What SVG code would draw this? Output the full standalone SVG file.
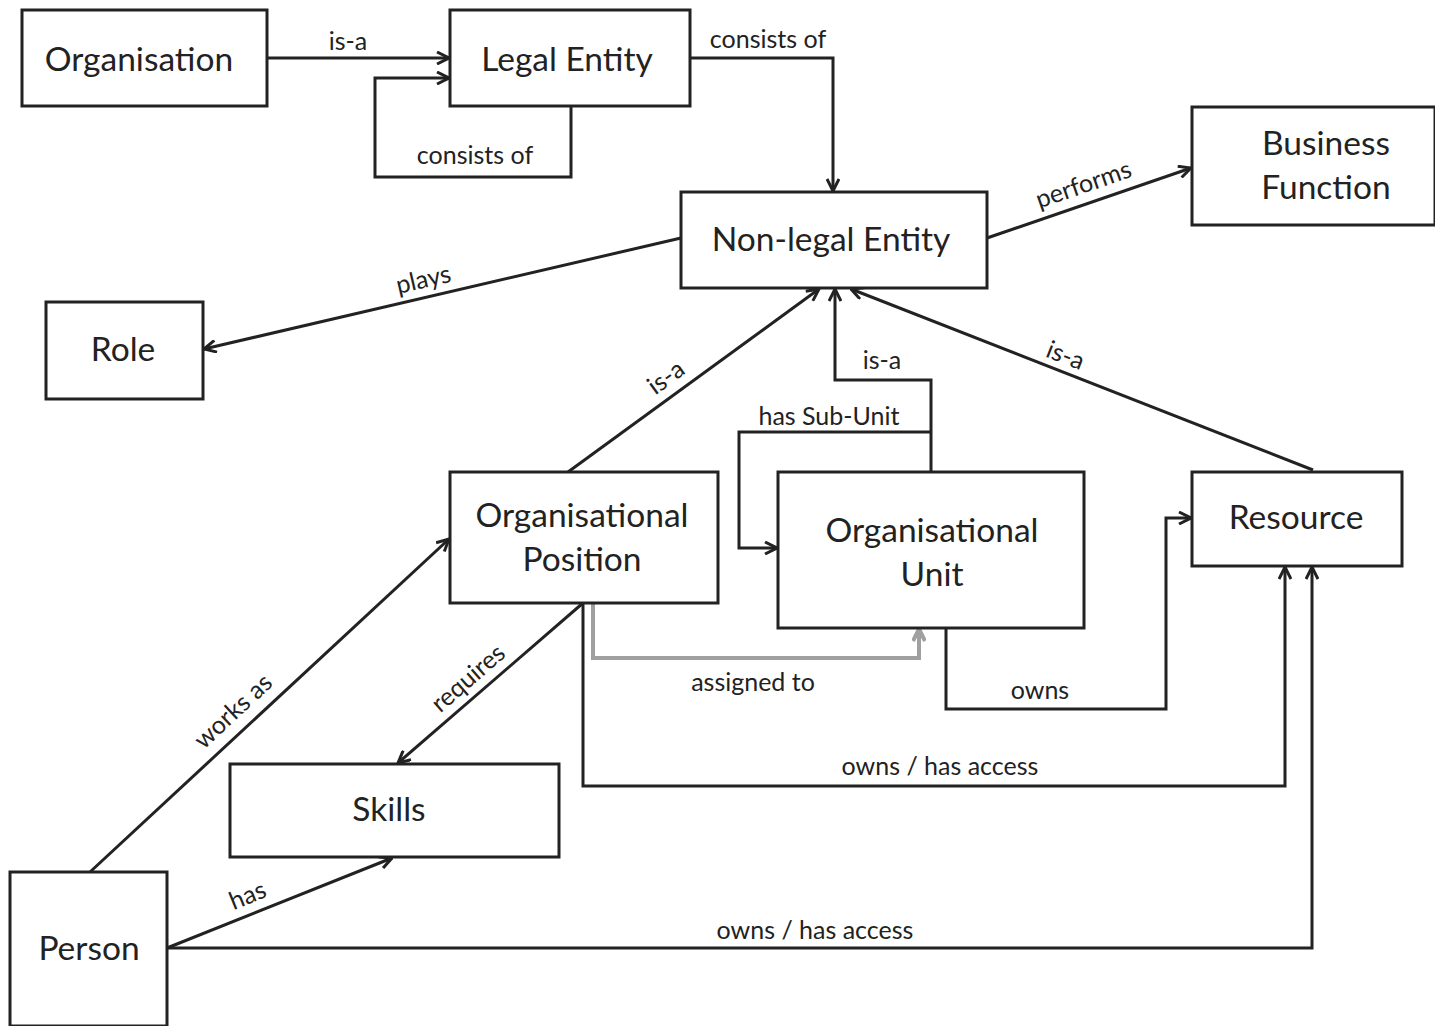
<svg xmlns="http://www.w3.org/2000/svg" width="1435" height="1026" viewBox="0 0 1435 1026">
<style>
.box{fill:#fff;stroke:#222;stroke-width:3}
.nt{font-family:Lato,"Liberation Sans",sans-serif;font-size:33.5px;fill:#222;text-anchor:middle}
.el{font-family:Lato,"Liberation Sans",sans-serif;font-size:25px;fill:#222;text-anchor:middle}
.er{font-family:Lato,"Liberation Sans",sans-serif;font-size:25px;fill:#222;text-anchor:middle;dominant-baseline:central}
.c{fill:none;stroke:#222;stroke-width:3;marker-end:url(#a)}
.g{fill:none;stroke:#a0a0a0;stroke-width:4;marker-end:url(#ag)}
</style>
<defs>
<marker id="a" viewBox="0 0 14 14" markerWidth="14" markerHeight="14" refX="13" refY="7" orient="auto" markerUnits="userSpaceOnUse">
<path d="M1,1 L13,7 L1,13" fill="none" stroke="#222" stroke-width="3"/>
</marker>
<marker id="ag" viewBox="0 0 14 14" markerWidth="14" markerHeight="14" refX="13" refY="7" orient="auto" markerUnits="userSpaceOnUse">
<path d="M1,1 L13,7 L1,13" fill="none" stroke="#a0a0a0" stroke-width="4"/>
</marker>
</defs>
<rect width="1435" height="1026" fill="#fff"/>
<g id="connectors">
<path class="c" d="M267,58 H449"/>
<path class="c" d="M571,106 V177 H375 V78 H449"/>
<path class="c" d="M690,58 H833 V191"/>
<path class="c" d="M987,238 L1191,168"/>
<path class="c" d="M681,238 L204,349"/>
<path class="c" d="M568,472 L819,289"/>
<path class="c" d="M931,472 V380 H835 V289"/>
<path class="c" d="M1313,470 L851,289"/>
<path class="c" d="M931,432 H739 V548 H777"/>
<path class="g" d="M593,603 V658 H919 V629"/>
<path class="c" d="M946,628 V709 H1166 V518 H1191"/>
<path class="c" d="M583,603 V786 H1285 V567"/>
<path class="c" d="M583,603 L398,763"/>
<path class="c" d="M90,872 L449,539"/>
<path class="c" d="M167,948 L392,858"/>
<path class="c" d="M167,948 H1312 V567"/>
<text class="el" x="348" y="50">is-a</text>
<text class="el" x="768" y="48">consists of</text>
<text class="el" x="475" y="164">consists of</text>
<text class="el" x="829" y="425">has Sub-Unit</text>
<text class="el" x="882" y="369">is-a</text>
<text class="el" x="753" y="691">assigned to</text>
<text class="el" x="1040" y="699">owns</text>
<text class="el" x="940" y="775">owns / has access</text>
<text class="el" x="815" y="939">owns / has access</text>
<text class="er" transform="translate(1083,183) rotate(-19)">performs</text>
<text class="er" transform="translate(423,278) rotate(-13)">plays</text>
<text class="er" transform="translate(665,376) rotate(-36)">is-a</text>
<text class="er" transform="translate(1066,354) rotate(21.5)">is-a</text>
<text class="er" transform="translate(467,677) rotate(-41)">requires</text>
<text class="er" transform="translate(232,710) rotate(-43)">works as</text>
<text class="er" transform="translate(247,894) rotate(-22)">has</text>
</g>
<g id="organisation"><rect class="box" x="22" y="10" width="245" height="96"/><text class="nt" x="139" y="71">Organisation</text></g>
<g id="legal-entity"><rect class="box" x="450" y="10" width="240" height="96"/><text class="nt" x="567" y="71">Legal Entity</text></g>
<g id="business-function"><rect class="box" x="1192" y="107" width="243" height="118"/><text class="nt" x="1326" y="155">Business</text><text class="nt" x="1326" y="199">Function</text></g>
<g id="non-legal-entity"><rect class="box" x="681" y="192" width="306" height="96"/><text class="nt" x="831" y="251">Non-legal Entity</text></g>
<g id="role"><rect class="box" x="46" y="302" width="157" height="97"/><text class="nt" x="123" y="361">Role</text></g>
<g id="organisational-position"><rect class="box" x="450" y="472" width="268" height="131"/><text class="nt" x="582" y="527">Organisational</text><text class="nt" x="582" y="571">Position</text></g>
<g id="organisational-unit"><rect class="box" x="778" y="472" width="306" height="156"/><text class="nt" x="932" y="542">Organisational</text><text class="nt" x="932" y="586">Unit</text></g>
<g id="resource"><rect class="box" x="1192" y="472" width="210" height="94"/><text class="nt" x="1296" y="529">Resource</text></g>
<g id="skills"><rect class="box" x="230" y="764" width="329" height="93"/><text class="nt" x="389" y="821">Skills</text></g>
<g id="person"><rect class="box" x="10" y="872" width="157" height="154"/><text class="nt" x="89" y="960">Person</text></g>
</svg>
